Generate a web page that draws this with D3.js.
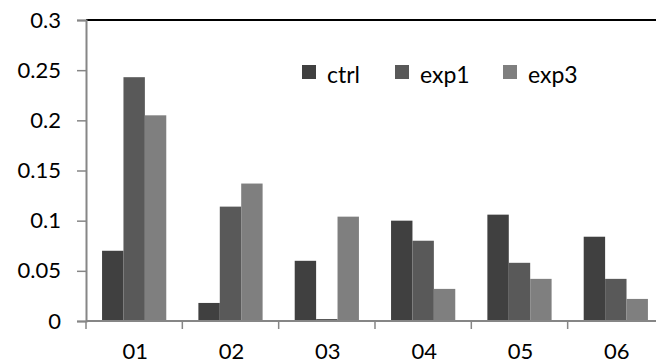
<!DOCTYPE html>
<html>
<head>
<meta charset="utf-8">
<script src="https://cdn.jsdelivr.net/npm/d3@7"></script>
<style>
  html, body { margin: 0; padding: 0; background: #fff; }
  svg { display: block; }
  text { font-family: Lato, "Open Sans", sans-serif; fill: #000; }
</style>
</head>
<body>
<div id="chart"></div>
<script>
// Grouped bar chart: three series per sample
const categories = ["01", "02", "03", "04", "05", "06"];
const seriesNames = ["ctrl", "exp1", "exp3"];
const ctrl = [0.070, 0.018, 0.060, 0.100, 0.106, 0.084];
const exp1 = [0.243, 0.114, 0.002, 0.080, 0.058, 0.042];
const exp3 = [0.205, 0.137, 0.104, 0.032, 0.042, 0.022];
const yTicks = [0, 0.05, 0.1, 0.15, 0.2, 0.25, 0.3];
const yTickLabels = ["0", "0.05", "0.1", "0.15", "0.2", "0.25", "0.3"];
const colors = ["#404040", "#595959", "#7f7f7f"];

const values = { ctrl, exp1, exp3 };

const W = 656, H = 363;
const plotLeft = 86, plotTop = 20, plotBottom = 321;
const bandStep = 96.33;

const svg = d3.select("#chart").append("svg")
  .attr("width", W).attr("height", H);

const x0 = d3.scaleBand()
  .domain(categories)
  .range([plotLeft, plotLeft + bandStep * categories.length])
  .padding(0);

const x1 = d3.scaleBand()
  .domain(seriesNames)
  .range([0, x0.bandwidth()])
  .paddingInner(0)
  .paddingOuter(0.75);

const y = d3.scaleLinear().domain([0, 0.3]).range([plotBottom, plotTop]);
const color = d3.scaleOrdinal().domain(seriesNames).range(colors);

// Bars
const groups = svg.append("g").selectAll("g")
  .data(categories)
  .join("g")
  .attr("transform", d => `translate(${x0(d)},0)`);

groups.selectAll("rect")
  .data((c, i) => seriesNames.map(s => ({ s, v: values[s][i] })))
  .join("rect")
  .attr("x", d => x1(d.s))
  .attr("y", d => y(d.v))
  .attr("width", x1.bandwidth())
  .attr("height", d => y(0) - y(d.v))
  .attr("fill", d => color(d.s));

// Top border of plot area
svg.append("line")
  .attr("x1", plotLeft).attr("x2", W)
  .attr("y1", y(0.3)).attr("y2", y(0.3))
  .attr("stroke", "#000").attr("stroke-width", 2);

// Y axis
const yAxis = d3.axisLeft(y)
  .tickValues(yTicks)
  .tickFormat((d, i) => yTickLabels[i])
  .tickSize(9)
  .tickPadding(16);
const gy = svg.append("g").attr("transform", `translate(${plotLeft},0)`).call(yAxis);
gy.select(".domain").attr("stroke", "#868686").attr("stroke-width", 2);
gy.selectAll(".tick line").attr("stroke", "#868686").attr("stroke-width", 1.5);
gy.selectAll(".tick text")
  .style("font-family", "Lato, 'Open Sans', sans-serif")
  .style("font-size", "22px")
  .attr("fill", "#000");

// X axis: line with ticks at category boundaries
const gx = svg.append("g");
gx.append("line")
  .attr("x1", plotLeft).attr("x2", W)
  .attr("y1", plotBottom).attr("y2", plotBottom)
  .attr("stroke", "#868686").attr("stroke-width", 2);
gx.selectAll("line.tick")
  .data(categories)
  .join("line")
  .attr("class", "tick")
  .attr("x1", d => x0(d)).attr("x2", d => x0(d))
  .attr("y1", plotBottom).attr("y2", plotBottom + 8)
  .attr("stroke", "#868686").attr("stroke-width", 1.5);
gx.selectAll("text")
  .data(categories)
  .join("text")
  .attr("x", d => x0(d) + x0.bandwidth() / 2 + 1)
  .attr("y", 358.5)
  .attr("text-anchor", "middle")
  .style("font-size", "22px")
  .text(d => d);

// Legend
const legendX = [302, 395, 503];
const legend = svg.append("g").selectAll("g")
  .data(seriesNames)
  .join("g")
  .attr("transform", (d, i) => `translate(${legendX[i]},65)`);
legend.append("rect")
  .attr("width", 14).attr("height", 14)
  .attr("fill", d => color(d));
legend.append("text")
  .attr("x", 25).attr("y", 17.5)
  .style("font-size", "23px")
  .text(d => d);
</script>
</body>
</html>
